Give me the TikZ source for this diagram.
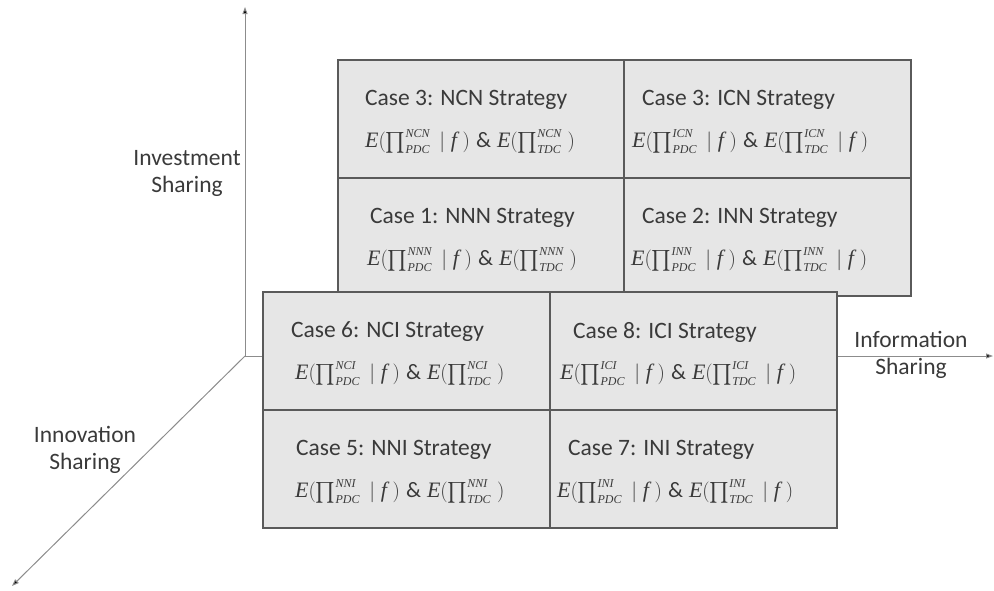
\documentclass[tikz,border=0pt]{standalone}
\usepackage{amsmath}
\usepackage{fontspec}
\setmainfont{Carlito}
\newfontfamily\tnr{Liberation Serif}
\usetikzlibrary{arrows.meta,calc}
\definecolor{boxfill}{HTML}{E6E6E6}
\definecolor{boxline}{HTML}{5A5A5A}
\definecolor{txt}{HTML}{3A3A3A}
\definecolor{axisgray}{HTML}{8C8C8C}
\newcommand{\mi}[1]{\mbox{\tnr\itshape #1}}
\newcommand{\ms}[1]{\mbox{\tnr\itshape\fontsize{12}{12}\selectfont #1}}
\newcommand{\Epdc}[1]{$\mi{E}(\prod\nolimits^{\ms{#1}}_{\ms{PDC}}\;|\;\mi{f}\;)$}
\newcommand{\Etdc}[1]{$\mi{E}(\prod\nolimits^{\ms{#1}}_{\ms{TDC}}\;)$}
\newcommand{\Etdcf}[1]{$\mi{E}(\prod\nolimits^{\ms{#1}}_{\ms{TDC}}\;|\;\mi{f}\;)$}
\newcommand{\amp}{\hspace{6pt}\&\hspace{6pt}}
\begin{document}
\begin{tikzpicture}[x=1pt,y=-1pt,
  axis/.style={draw=axisgray, line width=1pt, -{Triangle[length=7pt,width=5pt,fill=black]}},
  cell/.style={draw=boxline, fill=boxfill, line width=1.3pt, inner sep=0pt, outer sep=0pt,
    anchor=north west, minimum height=118pt},
  title/.style={anchor=west, inner sep=0pt, text=txt, font=\fontsize{23.5}{26}\selectfont},
  formula/.style={anchor=west, inner sep=0pt, text=txt, font=\fontsize{22}{24}\selectfont},
  axlabel/.style={align=center, inner sep=0pt, text=txt, font=\fontsize{23.5}{27}\selectfont}]
\useasboundingbox (0,0) rectangle (994,590);
% axes
\coordinate (O) at (245,356);
\coordinate (up) at (245,7);
\coordinate (right) at (993,356);
\coordinate (dl) at (12,586);
\draw[axis] (O) -- (up);
\draw[axis] (O) -- (right);
\draw[axis] (O) -- (dl);
\node[axlabel] (inv) at (187,173) {Investment\\Sharing};
\node[axlabel] (inno) at (85,450) {Innovation\\Sharing};
\node[axlabel] (info) at (911,355) {Information\\Sharing};
% back box
\node[cell, minimum width=286pt] (b1) at (338,60) {};
\node[cell, minimum width=287pt] (b2) at (624,60) {};
\node[cell, minimum width=286pt] (b3) at (338,178) {};
\node[cell, minimum width=287pt] (b4) at (624,178) {};
\node[title] (t1) at ($(b1.north west)+(27,40)$) {Case 3: NCN Strategy};
\node[formula] (f1) at ($(b1.north west)+(27,82)$) {\Epdc{NCN}\amp\Etdc{NCN}};
\node[title] (t2) at ($(b2.north west)+(18,40)$) {Case 3: ICN Strategy};
\node[formula] (f2) at ($(b2.north west)+(8,82)$) {\Epdc{ICN}\amp\Etdcf{ICN}};
\node[title] (t3) at ($(b3.north west)+(32,40)$) {Case 1: NNN Strategy};
\node[formula] (f3) at ($(b3.north west)+(29,82)$) {\Epdc{NNN}\amp\Etdc{NNN}};
\node[title] (t4) at ($(b4.north west)+(18,40)$) {Case 2: INN Strategy};
\node[formula] (f4) at ($(b4.north west)+(7,82)$) {\Epdc{INN}\amp\Etdcf{INN}};
% front box
\node[cell, minimum width=287pt] (c1) at (263,292) {};
\node[cell, minimum width=287pt] (c2) at (550,292) {};
\node[cell, minimum width=287pt] (c3) at (263,410) {};
\node[cell, minimum width=287pt] (c4) at (550,410) {};
\node[title] (s1) at ($(c1.north west)+(28,40)$) {Case 6: NCI Strategy};
\node[formula] (g1) at ($(c1.north west)+(32,82)$) {\Epdc{NCI}\amp\Etdc{NCI}};
\node[title] (s2) at ($(c2.north west)+(23,40)$) {Case 8: ICI Strategy};
\node[formula] (g2) at ($(c2.north west)+(10,82)$) {\Epdc{ICI}\amp\Etdcf{ICI}};
\node[title] (s3) at ($(c3.north west)+(33,40)$) {Case 5: NNI Strategy};
\node[formula] (g3) at ($(c3.north west)+(32,82)$) {\Epdc{NNI}\amp\Etdc{NNI}};
\node[title] (s4) at ($(c4.north west)+(18,40)$) {Case 7: INI Strategy};
\node[formula] (g4) at ($(c4.north west)+(7,82)$) {\Epdc{INI}\amp\Etdcf{INI}};
\end{tikzpicture}
\end{document}
